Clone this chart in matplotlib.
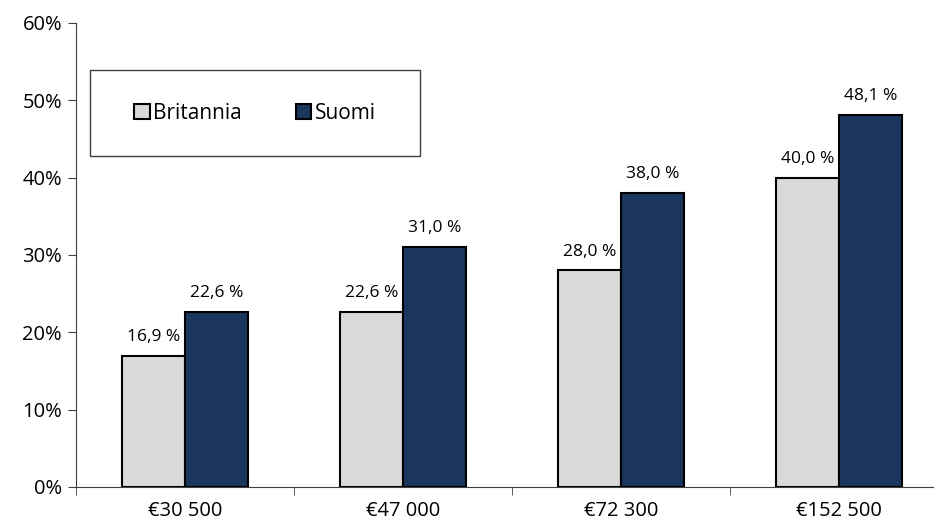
import matplotlib.pyplot as plt
import numpy as np
from matplotlib.patches import Rectangle

plt.rcParams['font.family'] = ['Open Sans', 'DejaVu Sans']

# 数据
categories = ['€30 500', '€47 000', '€72 300', '€152 500']
britannia = [16.9, 22.6, 28.0, 40.0]
suomi = [22.6, 31.0, 38.0, 48.1]
yticks = [0, 10, 20, 30, 40, 50, 60]

fig = plt.figure(figsize=(9.34, 5.26), dpi=100)
ax = fig.add_axes([76 / 934, 39 / 526, 872 / 934, 464 / 526])

x = np.arange(len(categories))
w = 0.29
ax.bar(x - w / 2, britannia, w, color='#d9d9d9', edgecolor='black',
       linewidth=1.5, label='Britannia')
ax.bar(x + w / 2, suomi, w, color='#1b365d', edgecolor='black',
       linewidth=1.5, label='Suomi')

# 数据标签
for xi, v in zip(x - w / 2, britannia):
    ax.text(xi, v + 1.4, f'{v:.1f} %'.replace('.', ','), ha='center',
            va='bottom', fontsize=12.5)
for xi, v in zip(x + w / 2, suomi):
    ax.text(xi, v + 1.4, f'{v:.1f} %'.replace('.', ','), ha='center',
            va='bottom', fontsize=12.5)

ax.set_xlim(-0.5, len(categories) - 0.5)
ax.set_ylim(0, 60)
ax.set_yticks(yticks)
ax.set_yticklabels([f'{t}%' for t in yticks], fontsize=14.5)
ax.set_xticks(x)
ax.set_xticklabels(categories, fontsize=14.5)
ax.set_xticks(np.arange(len(categories) + 1) - 0.5, minor=True)
ax.tick_params(axis='x', which='major', length=0, pad=10)
ax.tick_params(axis='x', which='minor', length=6, direction='out', color='#404040')
ax.tick_params(axis='y', length=6, direction='out', color='#404040', pad=4)
ax.spines['top'].set_visible(False)
ax.spines['right'].set_visible(False)
ax.spines['left'].set_color('#404040')
ax.spines['bottom'].set_color('#404040')

# 图例框
ax.add_patch(Rectangle((0.016, 0.713), 0.378, 0.186, transform=ax.transAxes,
                       facecolor='white', edgecolor='#404040', linewidth=1,
                       zorder=5))
leg = ax.legend(loc='center', bbox_to_anchor=(0.205, 0.806), ncol=2,
                frameon=False, fontsize=15, handlelength=0.75, handleheight=0.75,
                handletextpad=0.15, columnspacing=2.6)
leg.set_zorder(6)

plt.savefig('out.png', dpi=100)
